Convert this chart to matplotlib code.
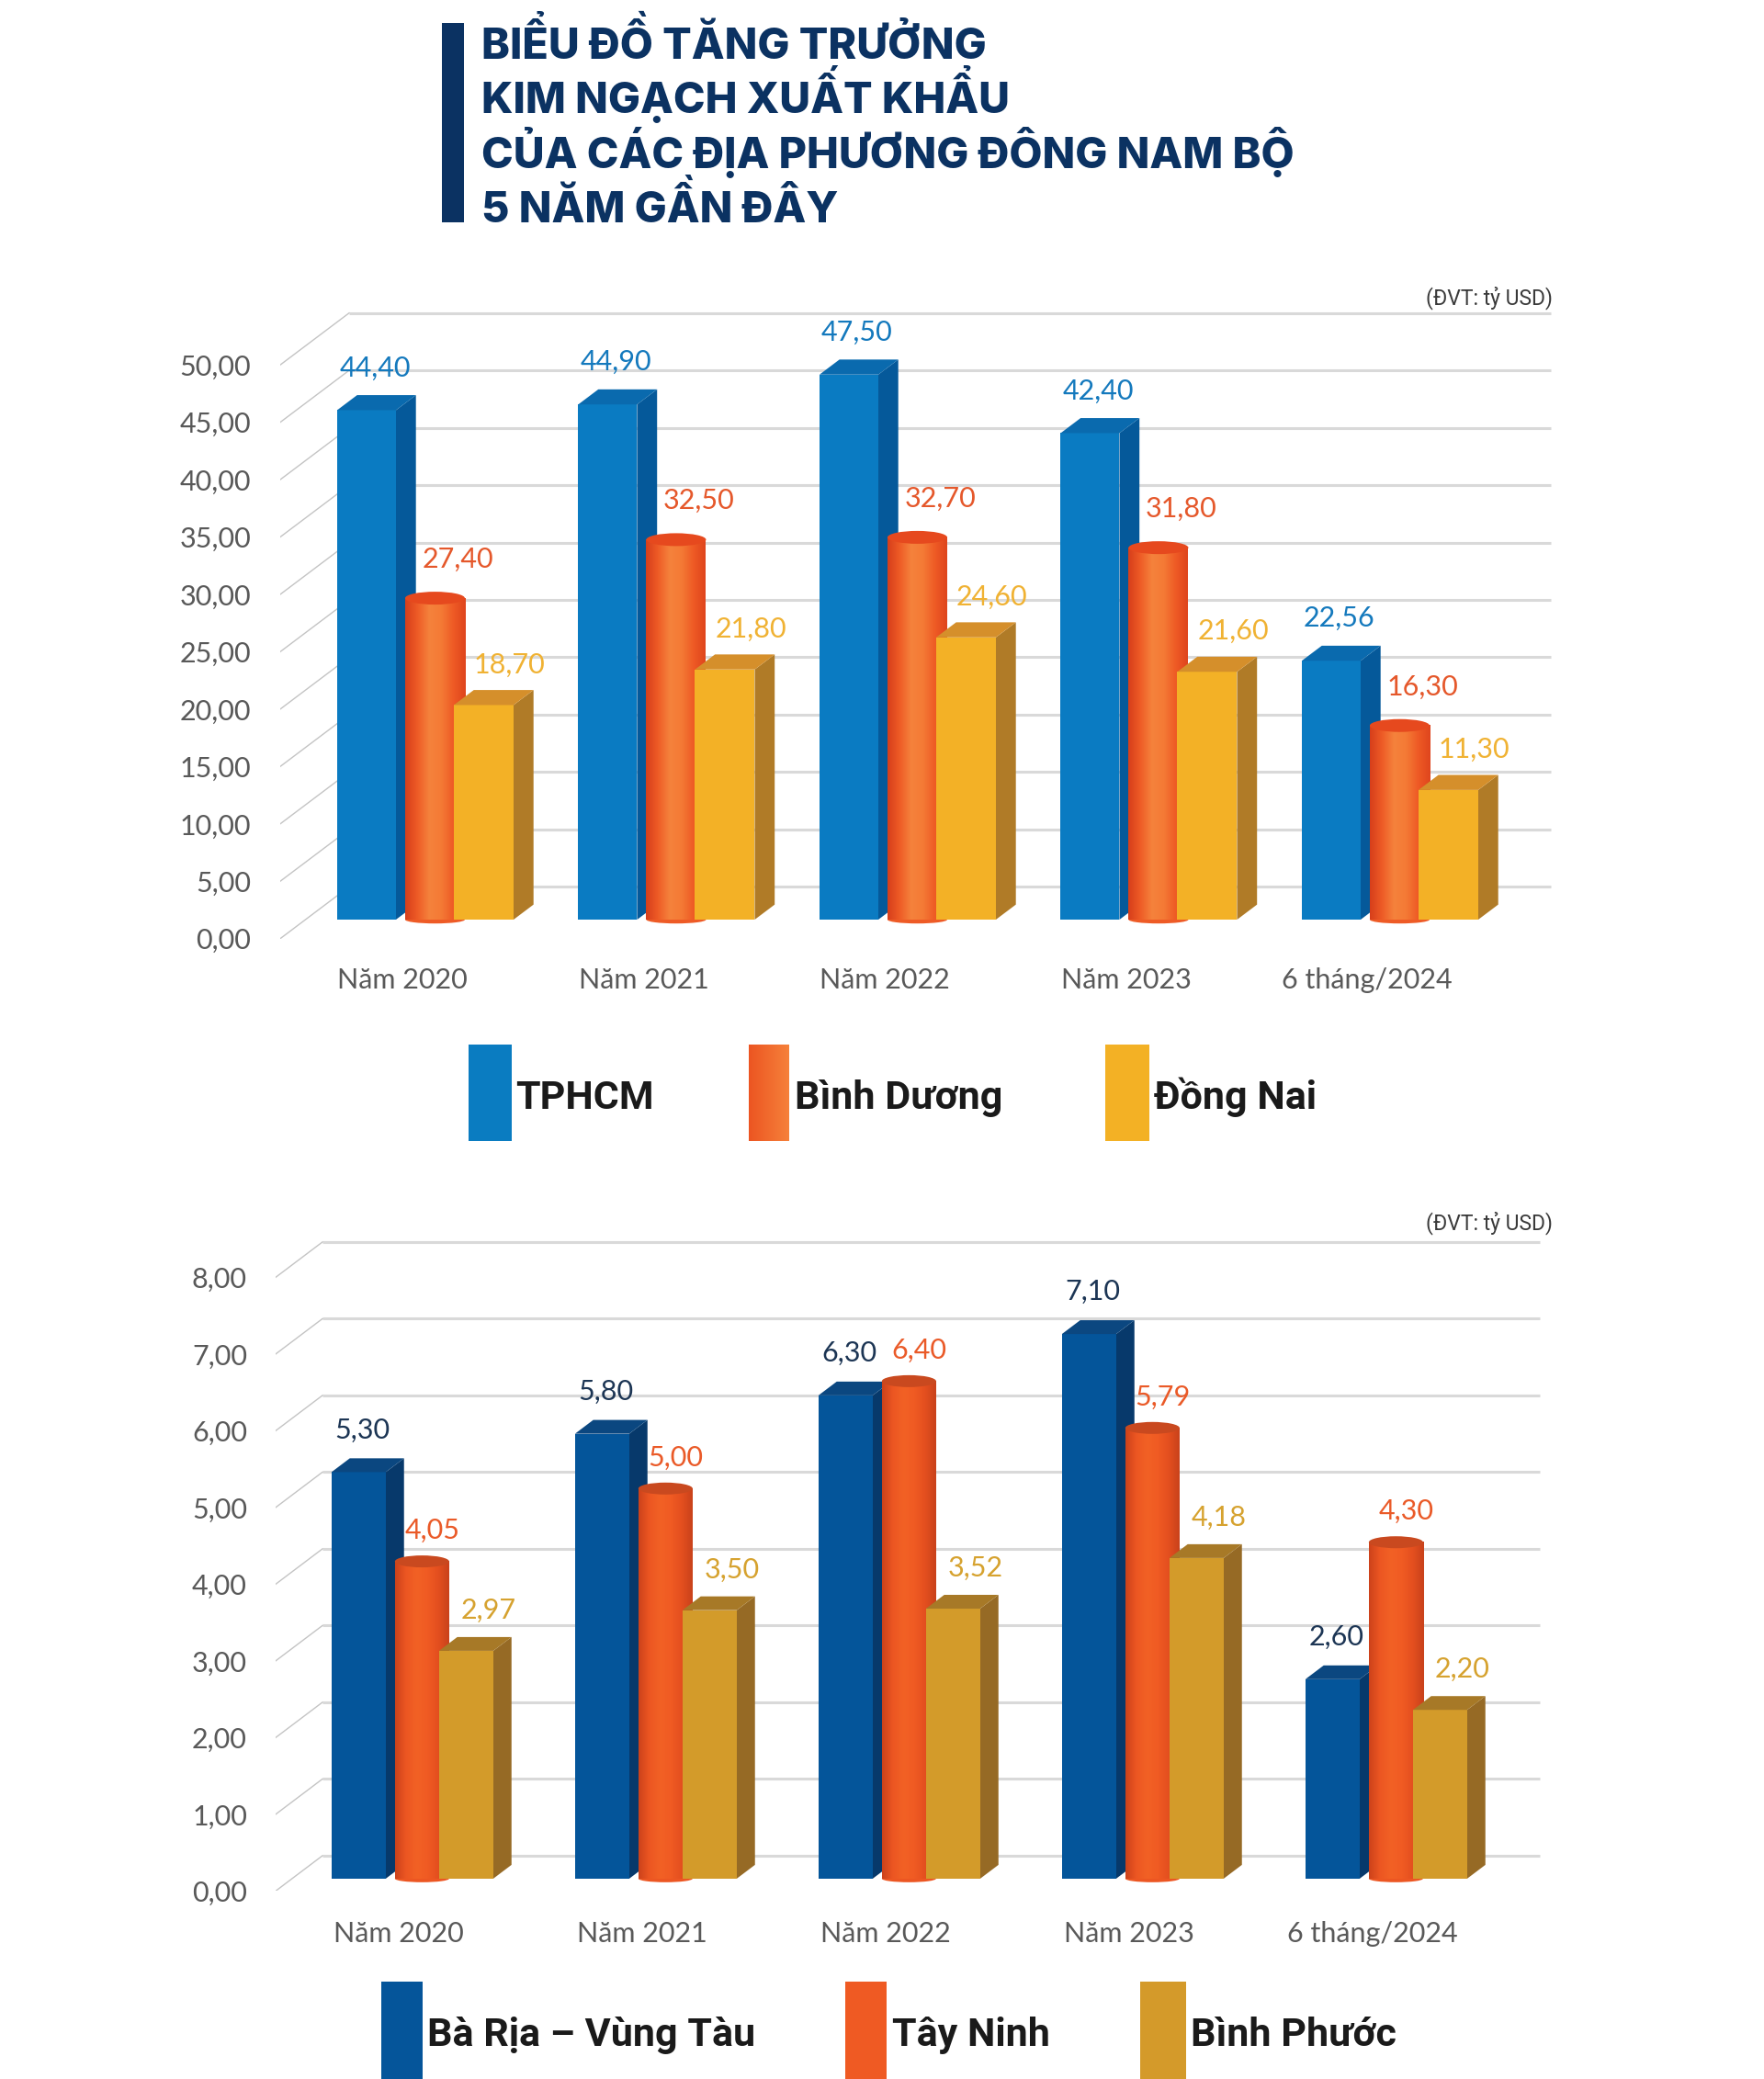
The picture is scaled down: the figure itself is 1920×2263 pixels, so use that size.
import numpy as np
import matplotlib

matplotlib.use("Agg")
import matplotlib.pyplot as plt
from matplotlib.colors import LinearSegmentedColormap
from matplotlib.patches import Ellipse, Polygon, Rectangle

W, H, DPI = 1920, 2263, 100
PT = 72.0 / DPI  # points per pixel

TITLE_LINES = [
    "BIỂU ĐỒ TĂNG TRƯỞNG",
    "KIM NGẠCH XUẤT KHẨU",
    "CỦA CÁC ĐỊA PHƯƠNG ĐÔNG NAM BỘ",
    "5 NĂM GẦN ĐÂY",
]
UNIT_LABEL = "(ĐVT: tỷ USD)"
CATEGORIES = ["Năm 2020", "Năm 2021", "Năm 2022", "Năm 2023", "6 tháng/2024"]

TOP_NAMES = ["TPHCM", "Bình Dương", "Đồng Nai"]
TPHCM = [44.40, 44.90, 47.50, 42.40, 22.56]
BINH_DUONG = [27.40, 32.50, 32.70, 31.80, 16.30]
DONG_NAI = [18.70, 21.80, 24.60, 21.60, 11.30]
TOP_TICKS = [0, 5, 10, 15, 20, 25, 30, 35, 40, 45, 50]

BOTTOM_NAMES = ["Bà Rịa – Vùng Tàu", "Tây Ninh", "Bình Phước"]
BA_RIA_VUNG_TAU = [5.30, 5.80, 6.30, 7.10, 2.60]
TAY_NINH = [4.05, 5.00, 6.40, 5.79, 4.30]
BINH_PHUOC = [2.97, 3.50, 3.52, 4.18, 2.20]
BOTTOM_TICKS = [0, 1, 2, 3, 4, 5, 6, 7, 8]

LABEL_FONT = ["Lato", "Noto Sans", "DejaVu Sans"]
LEGEND_FONT = ["Roboto", "Noto Sans", "DejaVu Sans"]
TITLE_FONT = ["Inter", "Noto Sans", "DejaVu Sans"]

# pixel geometry of each 3D panel (measured on the reference)
TOP_GEOM = dict(
    cat0=438, cat_step=262.5, zero_y=1021.7, unit=12.49, ymax=58,
    wall_left=305, wall_right_back=1688, ax_right=1730,
    depth_dx=75, depth_dy=56.5, bar_d0=0.366, bar_depth=0.29,
    offsets=[-98.5, -24.5, 28.5], widths=[64, 65, 65],
    label_dx=[9, 25, 28], label_dy=[46, 50, 44],
    ell_h=14, ytick_pad=32, xtick_pad=31, unit_x=1690, unit_dy=4,
)
BOTTOM_GEOM = dict(
    cat0=434, cat_step=265, zero_y=2058.4, unit=83.5, ymax=9.3,
    wall_left=300, wall_right_back=1676, ax_right=1730,
    depth_dx=51, depth_dy=38.5, bar_d0=0.35, bar_depth=0.39,
    offsets=[-91, -22, 26], widths=[59, 59, 59],
    label_dx=[4, 11, 24], label_dy=[46, 41, 44],
    ell_h=13, ytick_pad=31, xtick_pad=33, unit_x=1690, unit_dy=8,
)

TOP_STYLE = dict(
    kinds=["box", "cyl", "box"],
    front=["#0a7bc2", None, "#f3b126"],
    side=["#05599a", None, "#b07b27"],
    top=["#0a6aae", "#e6491e", "#d58f2b"],
    cyl=["#d63e1b", "#ee5b26", "#f5823c", "#f47a35", "#ee5a25", "#df451d"],
    label=["#1479bd", "#e5582b", "#f0b233"],
)
BOTTOM_STYLE = dict(
    kinds=["box", "cyl", "box"],
    front=["#04559a", None, "#d39b2a"],
    side=["#07396b", None, "#966a25"],
    top=["#0b4780", "#c9491f", "#a77927"],
    cyl=["#cc421b", "#ec5622", "#f26125", "#f05b23", "#e44f1f", "#c8421b"],
    label=["#1c3554", "#ea5a28", "#d6a22f"],
)

TICK_COLOR = "#595959"
GRID_COLOR = "#d9d9d9"
DIAG_COLOR = "#c4c4c4"


def fmt(v):
    return f"{v:.2f}".replace(".", ",")


def draw_panel(fig, geom, style, series, ticks):
    g = geom
    left_px, right_px = g["wall_left"], g["ax_right"]
    top_px = g["zero_y"] - g["ymax"] * g["unit"]
    ax = fig.add_axes([
        left_px / W, 1 - g["zero_y"] / H,
        (right_px - left_px) / W, (g["zero_y"] - top_px) / H,
    ])
    ax.patch.set_visible(False)
    for sp in ax.spines.values():
        sp.set_visible(False)

    dx = g["depth_dx"] / g["cat_step"]
    dy = g["depth_dy"] / g["unit"]

    def P(x, v, d):
        return (x + d * dx, v + d * dy)

    wl = (g["wall_left"] - g["cat0"]) / g["cat_step"]
    wr = (g["wall_right_back"] - g["depth_dx"] - g["cat0"]) / g["cat_step"]

    # back wall gridlines and side-wall diagonals
    for t in ticks:
        a, b = P(wl, t, 1), P(wr, t, 1)
        ax.plot([a[0], b[0]], [a[1], b[1]], color=GRID_COLOR, lw=2.2, zorder=1,
                solid_capstyle="butt")
        c = P(wl, t, 0)
        ax.plot([c[0], a[0]], [c[1], a[1]], color=DIAG_COLOR, lw=1.0, zorder=1)

    d0 = g["bar_d0"]
    d1 = d0 + g["bar_depth"]
    cmap = LinearSegmentedColormap.from_list("cyl", style["cyl"])
    grad = np.linspace(0, 1, 256)[np.newaxis, :]
    ell_h = g["ell_h"] / g["unit"]

    for i in range(len(CATEGORIES)):
        for s, values in enumerate(series):
            v = values[i]
            z = 10 + i * 10 + s * 3
            xl = i + g["offsets"][s] / g["cat_step"]
            xr = xl + g["widths"][s] / g["cat_step"]
            if style["kinds"][s] == "box":
                front = [P(xl, 0, d0), P(xr, 0, d0), P(xr, v, d0), P(xl, v, d0)]
                side = [P(xr, 0, d0), P(xr, 0, d1), P(xr, v, d1), P(xr, v, d0)]
                top = [P(xl, v, d0), P(xr, v, d0), P(xr, v, d1), P(xl, v, d1)]
                ax.add_patch(Polygon(side, closed=True, fc=style["side"][s], ec="none", zorder=z))
                ax.add_patch(Polygon(front, closed=True, fc=style["front"][s], ec="none", zorder=z + 1))
                ax.add_patch(Polygon(top, closed=True, fc=style["top"][s], ec="none", zorder=z + 1))
            else:
                x0, y0 = P(xl, 0, d0)
                x1, y1 = P(xr, v + ell_h * 0.55, d0)
                ax.imshow(grad, cmap=cmap, extent=[x0, x1, y0, y1], aspect="auto",
                          interpolation="bicubic", zorder=z)
                ax.add_patch(Ellipse(((x0 + x1) / 2, y0), x1 - x0, ell_h * 0.6,
                                     fc=style["cyl"][1], ec="none", zorder=z - 0.5))
                ax.add_patch(Ellipse(((x0 + x1) / 2, y1), x1 - x0, ell_h,
                                     fc=style["top"][s], ec="none", zorder=z + 1))
            xc = (xl + xr) / 2
            ax.annotate(fmt(v), xy=P(xc, v, d0),
                        xytext=(g["label_dx"][s] * PT, g["label_dy"][s] * PT),
                        textcoords="offset points", ha="center", va="center",
                        fontsize=22, family=LABEL_FONT, color=style["label"][s],
                        zorder=200)

    ux = (g["unit_x"] - g["cat0"]) / g["cat_step"]
    ax.annotate(UNIT_LABEL, xy=(ux, ticks[-1] + dy), xytext=(0, g["unit_dy"] * PT),
                textcoords="offset points", ha="right", va="bottom",
                fontsize=16.5, fontweight="normal", family=LEGEND_FONT, color="#3a3a3a")

    ax.set_xlim((left_px - g["cat0"]) / g["cat_step"], (right_px - g["cat0"]) / g["cat_step"])
    ax.set_ylim(0, g["ymax"])
    ax.set_yticks(ticks)
    ax.set_yticklabels([fmt(t) for t in ticks], family=LABEL_FONT, fontsize=22, color=TICK_COLOR)
    ax.set_xticks(range(len(CATEGORIES)))
    ax.set_xticklabels(CATEGORIES, family=LABEL_FONT, fontsize=22, color=TICK_COLOR)
    ax.tick_params(axis="y", length=0, pad=g["ytick_pad"] * PT)
    ax.tick_params(axis="x", length=0, pad=g["xtick_pad"] * PT)
    return ax


def draw_legend(deco, names, swatches, colors, text_x, y_top, y_bot, baseline, grad_idx=None, grad_colors=None):
    for k, name in enumerate(names):
        x0, x1 = swatches[k]
        if k == grad_idx:
            cm = LinearSegmentedColormap.from_list("sw", grad_colors)
            deco.imshow(np.linspace(0, 1, 64)[np.newaxis, :], cmap=cm,
                        extent=[x0, x1, y_bot, y_top], aspect="auto", zorder=2)
        else:
            deco.add_patch(Rectangle((x0, y_top), x1 - x0, y_bot - y_top, fc=colors[k], ec="none"))
        deco.text(text_x[k], baseline, name, ha="left", va="baseline", fontsize=31,
                  fontweight="bold", family=LEGEND_FONT, color="#1a1a1a")


def main():
    fig = plt.figure(figsize=(W / DPI, H / DPI), dpi=DPI)
    fig.patch.set_facecolor("white")

    deco = fig.add_axes([0, 0, 1, 1])
    deco.set_xlim(0, W)
    deco.set_ylim(H, 0)
    deco.axis("off")

    # title block
    deco.add_patch(Rectangle((481, 25), 24, 217, fc="#0b3262", ec="none"))
    for k, line in enumerate(TITLE_LINES):
        deco.text(524, 64 + k * 59.3, line, ha="left", va="baseline", fontsize=33.6,
                  fontweight="heavy", family=TITLE_FONT, color="#0b3262")

    draw_panel(fig, TOP_GEOM, TOP_STYLE, [TPHCM, BINH_DUONG, DONG_NAI], TOP_TICKS)
    draw_panel(fig, BOTTOM_GEOM, BOTTOM_STYLE, [BA_RIA_VUNG_TAU, TAY_NINH, BINH_PHUOC], BOTTOM_TICKS)

    draw_legend(deco, TOP_NAMES, [(510, 557), (815, 859), (1203, 1251)],
                ["#0a7cc1", None, "#f3b125"], [561, 865, 1256], 1137, 1242, 1207,
                grad_idx=1, grad_colors=["#ec5522", "#f6813a"])
    draw_legend(deco, BOTTOM_NAMES, [(415, 460), (920, 965), (1241, 1291)],
                ["#05559a", "#ef5a23", "#d49a2a"], [465, 971, 1296], 2157, 2263, 2227)

    fig.savefig("out.png", dpi=DPI)
    plt.close(fig)


if __name__ == "__main__":
    main()
